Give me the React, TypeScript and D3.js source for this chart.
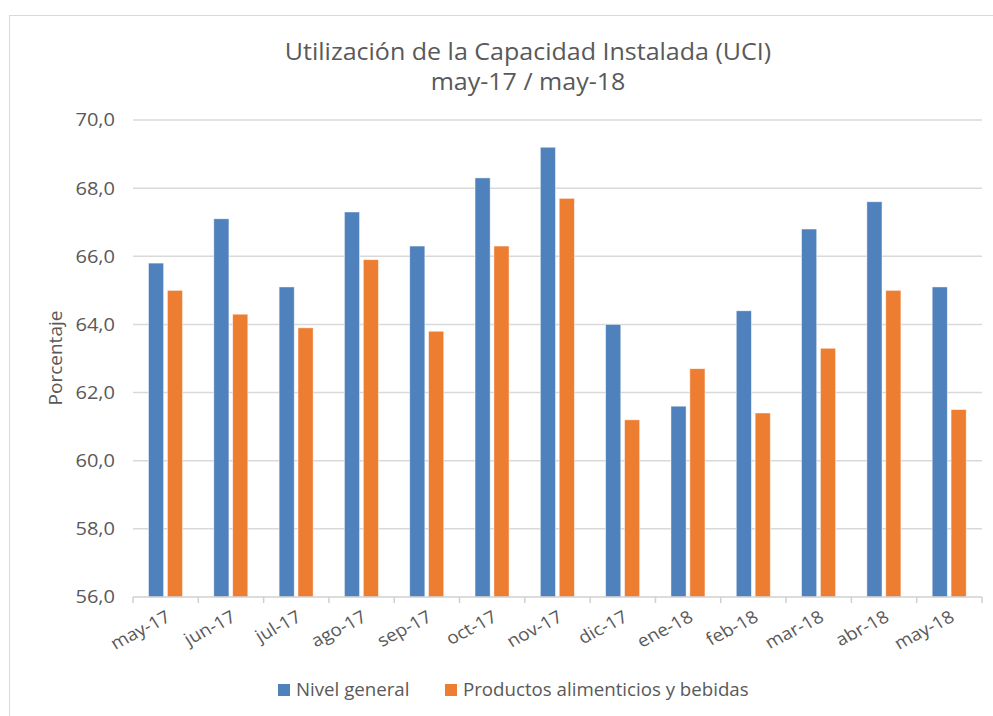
import React from "react";
import * as d3 from "d3";

const categories = ["may-17","jun-17","jul-17","ago-17","sep-17","oct-17","nov-17","dic-17","ene-18","feb-18","mar-18","abr-18","may-18"];
const nivelGeneral = [65.8,67.1,65.1,67.3,66.3,68.3,69.2,64.0,61.6,64.4,66.8,67.6,65.1];
const alimentos = [65.0,64.3,63.9,65.9,63.8,66.3,67.7,61.2,62.7,61.4,63.3,65.0,61.5];
const seriesNames = ["Nivel general","Productos alimenticios y bebidas"];
const yTicks = [56,58,60,62,64,66,68,70];
const titleLines = ["Utilización de la Capacidad Instalada (UCI)","may-17 / may-18"];
const yTitle = "Porcentaje";

const W = 993, H = 716;
const FONT = "'Open Sans', 'Noto Sans', sans-serif";
const TXT = "#595959";
const colors = ["#4F81BD", "#ED7D31"];

export default function App() {
  const x = d3.scaleBand<string>().domain(categories).range([133, 982]).paddingInner(0).paddingOuter(0);
  const xs = d3.scaleBand<string>().domain(seriesNames).range([15.5, 49.5]).paddingInner(0.2).paddingOuter(0);
  const y = d3.scaleLinear().domain([56, 70]).range([597, 120]);
  const fmt = (v: number) => d3.format(".1f")(v).replace(".", ",");
  const data = [nivelGeneral, alimentos];
  const bounds = categories.map((c) => x(c)!).concat([x.range()[1]]);

  return (
    <svg width={W} height={H} style={{ position: "absolute", left: 0, top: 0, background: "#fff" }} fontFamily={FONT}>
      <rect x={9.5} y={15.5} width={1000} height={720} fill="#fff" stroke="#d9d9d9" strokeWidth={1} />
      {titleLines.map((t, i) => (
        <text key={i} transform={`translate(528,${60 + i * 30}) scale(1.065,1)`} textAnchor="middle" fontSize={23.5} fill={TXT}>{t}</text>
      ))}
      {yTicks.map((t) => (
        <g key={t}>
          {t !== 56 && <line x1={133} x2={982} y1={y(t)} y2={y(t)} stroke="#d9d9d9" strokeWidth={1.5} />}
          <text transform={`translate(115,${y(t)}) scale(1.09,1)`} dy="0.35em" textAnchor="end" fontSize={18.4} fill={TXT}>{fmt(t)}</text>
        </g>
      ))}
      <text transform={`translate(62,358) rotate(-90)`} textAnchor="middle" fontSize={19} fill={TXT}>{yTitle}</text>
      {data.map((vals, si) =>
        vals.map((v, i) => (
          <rect key={`${si}-${i}`} x={x(categories[i])! + xs(seriesNames[si])!} y={y(v)} width={xs.bandwidth()} height={y(56) - y(v)}
            fill={colors[si]} stroke="#ffffff" strokeOpacity={0.6} strokeWidth={0.75} />
        ))
      )}
      <line x1={133} x2={982} y1={597} y2={597} stroke="#d0d0d0" strokeWidth={1.5} />
      {bounds.map((b, i) => (
        <line key={i} x1={b} x2={b} y1={597} y2={603} stroke="#d0d0d0" strokeWidth={1.5} />
      ))}
      {categories.map((c) => {
        const cx = x(c)! + x.bandwidth() / 2 + 3;
        return (
          <text key={c} transform={`translate(${cx},615) scale(1.1,1) rotate(-30)`} textAnchor="end" dy="0.35em" fontSize={17.3} fill={TXT}>{c}</text>
        );
      })}
      {seriesNames.map((s, i) => {
        const lx = i === 0 ? 278 : 445;
        return (
          <g key={s}>
            <rect x={lx} y={684} width={12} height={12} fill={colors[i]} />
            <text transform={`translate(${lx + 18},690) scale(1.08,1)`} dy="0.35em" fontSize={17.3} fill={TXT}>{s}</text>
          </g>
        );
      })}
    </svg>
  );
}
